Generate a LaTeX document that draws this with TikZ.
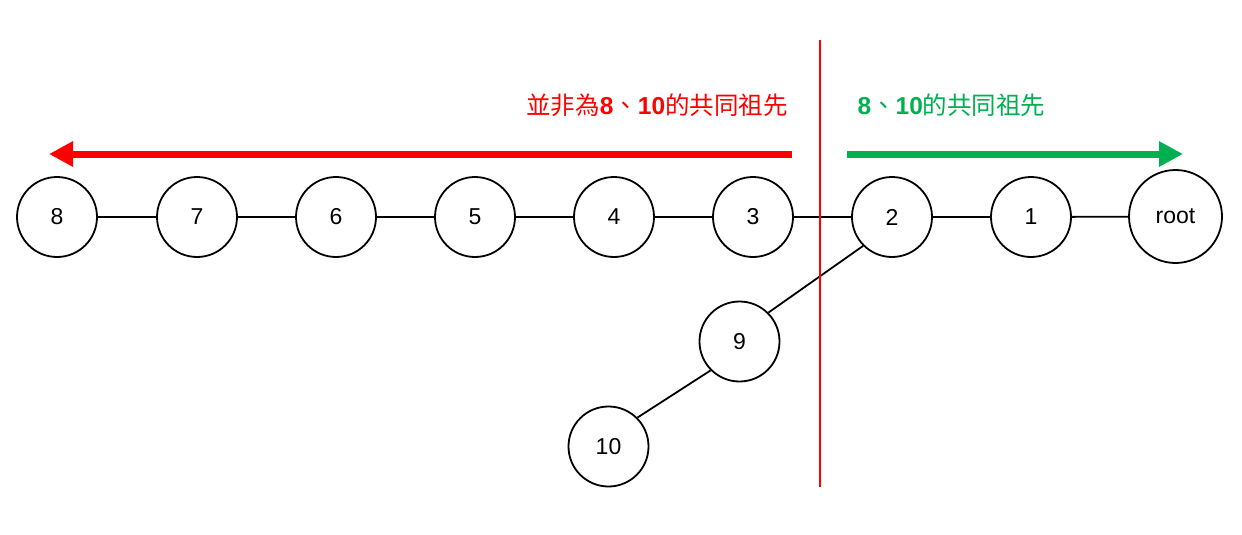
\documentclass[tikz,border=0pt]{standalone}
\usepackage{fontspec}
\setmainfont{Liberation Sans}
\newfontfamily\cjk{Noto Sans CJK TC}
\usetikzlibrary{arrows.meta}
\definecolor{myred}{RGB}{255,0,0}
\definecolor{mygreen}{RGB}{0,176,80}
\begin{document}
\begin{tikzpicture}[x=1pt,y=-1pt,
  treenode/.style={circle,draw=black,line width=1.8pt,minimum size=80pt,inner sep=0pt,font=\fontsize{23}{23}\selectfont},
  edge/.style={line width=1.8pt,draw=black},
  bigarrow/.style={line width=7pt,-{Triangle[length=24pt,width=24pt]}},
  label/.style={font=\fontsize{24.5}{24.5}\selectfont,inner sep=0pt}]
\useasboundingbox (0,0) rectangle (1242,535);
\node[treenode] (n8) at (57,217) {8};
\node[treenode] (n7) at (197,217) {7};
\node[treenode] (n6) at (336,217) {6};
\node[treenode] (n5) at (475,217) {5};
\node[treenode] (n4) at (614,217) {4};
\node[treenode] (n3) at (753,217) {3};
\node[treenode] (n2) at (892,217) {2};
\node[treenode] (n1) at (1031,217) {1};
\node[treenode,minimum size=93pt] (root) at (1175.5,216.5) {root};
\node[treenode] (n9) at (739.5,341.5) {9};
\node[treenode] (n10) at (608.5,446.5) {10};
\draw[edge] (n8) -- (n7);
\draw[edge] (n7) -- (n6);
\draw[edge] (n6) -- (n5);
\draw[edge] (n5) -- (n4);
\draw[edge] (n4) -- (n3);
\draw[edge] (n3) -- (n2);
\draw[edge] (n2) -- (n1);
\draw[edge] (n1) -- (root);
\draw[edge] (n2.225) -- (n9.45);
\draw[edge] (n9.225) -- (n10.45);
\coordinate (vtop) at (820,40);
\coordinate (vbot) at (820,487);
\draw[myred,line width=2pt] (vtop) -- (vbot);
\coordinate (rs) at (792,154);
\coordinate (re) at (49,154);
\draw[bigarrow,myred] (rs) -- (re);
\coordinate (gs) at (847,154);
\coordinate (ge) at (1183,154);
\draw[bigarrow,mygreen] (gs) -- (ge);
\node[label,text=myred] (lred) at (657,105) {{\cjk 並非為}\textbf{8}{\cjk 、}\textbf{10}{\cjk 的共同祖先}};
\node[label,text=mygreen] (lgreen) at (951.5,105) {\textbf{8}{\cjk 、}\textbf{10}{\cjk 的共同祖先}};
\end{tikzpicture}
\end{document}
